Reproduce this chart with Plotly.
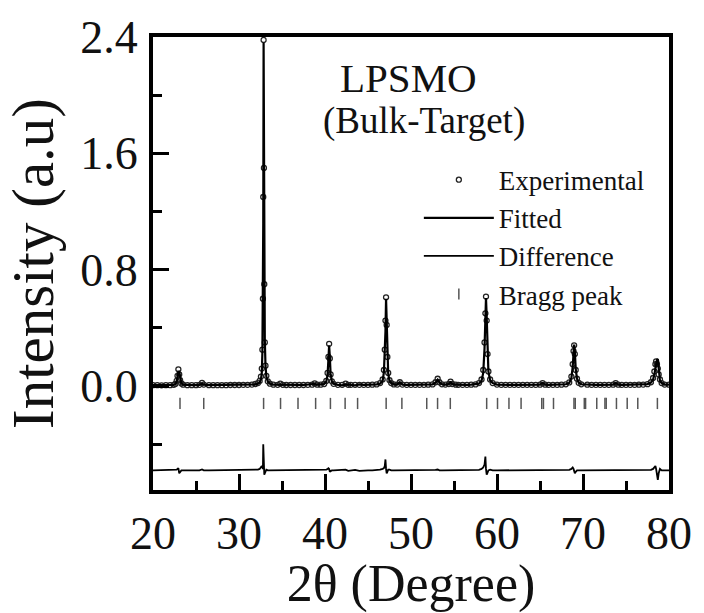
import plotly.graph_objects as go

# ---------------- data ----------------
two_theta = [
    20.0, 20.5, 21.0, 21.5, 22.0, 22.4, 22.6, 22.75,
    22.85, 22.95, 23.05, 23.15, 23.3, 23.5, 24.0, 24.5,
    25.0, 25.4, 25.7, 25.9, 26.5, 27.0, 27.5, 28.0,
    28.5, 29.0, 29.5, 30.0, 30.5, 31.0, 31.5, 31.9,
    32.2, 32.4, 32.55, 32.65, 32.72, 32.78, 32.82, 32.86,
    32.9, 32.94, 33.0, 33.08, 33.18, 33.35, 33.6, 34.0,
    34.5, 34.8, 35.1, 35.5, 36.0, 36.5, 37.0, 37.5,
    38.0, 38.5, 38.8, 39.1, 39.5, 39.9, 40.15, 40.3,
    40.4, 40.48, 40.56, 40.65, 40.8, 41.0, 41.5, 42.0,
    42.4, 42.7, 43.0, 43.5, 44.0, 44.5, 45.0, 45.5,
    46.0, 46.4, 46.7, 46.85, 46.95, 47.03, 47.1, 47.17,
    47.25, 47.35, 47.5, 47.7, 48.0, 48.4, 48.7, 49.0,
    49.5, 50.0, 50.5, 51.0, 51.5, 52.0, 52.5, 52.85,
    53.1, 53.3, 53.6, 54.0, 54.4, 54.6, 54.8, 55.2,
    55.5, 56.0, 56.5, 57.0, 57.5, 57.9, 58.2, 58.4,
    58.55, 58.65, 58.72, 58.8, 58.9, 59.0, 59.2, 59.5,
    60.0, 60.5, 61.0, 61.5, 62.0, 62.5, 63.0, 63.5,
    64.0, 64.5, 65.0, 65.3, 65.6, 66.0, 66.5, 67.0,
    67.5, 68.0, 68.4, 68.65, 68.8, 68.9, 68.97, 69.05,
    69.15, 69.3, 69.5, 69.8, 70.5, 71.0, 71.5, 72.0,
    72.5, 73.0, 73.5, 73.8, 74.1, 74.5, 75.0, 75.5,
    76.0, 76.5, 77.0, 77.5, 77.9, 78.15, 78.3, 78.42,
    78.5, 78.6, 78.7, 78.8, 78.95, 79.15, 79.5, 80.0,
]

y_obs = [
    0.006, 0.006, 0.005, 0.006, 0.006, 0.008, 0.014, 0.035,
    0.070, 0.115, 0.080, 0.040, 0.018, 0.009, 0.006, 0.006,
    0.006, 0.008, 0.022, 0.010, 0.006, 0.006, 0.006, 0.006,
    0.006, 0.007, 0.007, 0.007, 0.008, 0.008, 0.010, 0.014,
    0.020, 0.035, 0.065, 0.120, 0.250, 0.600, 1.300, 2.380,
    1.500, 0.700, 0.300, 0.140, 0.070, 0.032, 0.016, 0.009,
    0.008, 0.016, 0.008, 0.007, 0.007, 0.007, 0.007, 0.007,
    0.008, 0.009, 0.018, 0.009, 0.009, 0.014, 0.035, 0.090,
    0.200, 0.290, 0.190, 0.080, 0.032, 0.015, 0.008, 0.008,
    0.016, 0.008, 0.008, 0.008, 0.008, 0.008, 0.008, 0.009,
    0.011, 0.020, 0.045, 0.110, 0.250, 0.450, 0.610, 0.420,
    0.200, 0.090, 0.040, 0.020, 0.011, 0.010, 0.026, 0.010,
    0.008, 0.008, 0.008, 0.008, 0.008, 0.009, 0.011, 0.026,
    0.050, 0.026, 0.012, 0.010, 0.014, 0.030, 0.014, 0.009,
    0.008, 0.008, 0.008, 0.009, 0.011, 0.020, 0.045, 0.110,
    0.300, 0.500, 0.615, 0.450, 0.220, 0.100, 0.045, 0.020,
    0.010, 0.008, 0.008, 0.008, 0.008, 0.008, 0.008, 0.008,
    0.008, 0.008, 0.009, 0.020, 0.009, 0.008, 0.008, 0.008,
    0.009, 0.012, 0.025, 0.065, 0.150, 0.240, 0.280, 0.220,
    0.110, 0.050, 0.022, 0.012, 0.009, 0.008, 0.008, 0.008,
    0.008, 0.008, 0.009, 0.020, 0.009, 0.008, 0.008, 0.008,
    0.008, 0.009, 0.010, 0.013, 0.026, 0.055, 0.100, 0.150,
    0.170, 0.150, 0.120, 0.080, 0.045, 0.020, 0.010, 0.009,
]

# observed - calculated
y_diff = [
    0.0, 0.0, 0.0, 0.0, 0.0, 0.0, 0.0, 0.005,
    0.010, 0.015, -0.020, -0.010, 0.0, 0.0, 0.0, 0.0,
    0.0, 0.0, 0.006, 0.0, 0.0, 0.0, 0.0, 0.0,
    0.0, 0.0, 0.0, 0.0, 0.0, 0.0, 0.0, 0.003,
    0.005, 0.010, 0.020, 0.030, 0.020, 0.010, 0.180, 0.020,
    0.040, -0.030, -0.020, 0.0, 0.005, 0.0, 0.0, 0.0,
    0.0, 0.005, 0.0, 0.0, 0.0, 0.0, 0.0, 0.0,
    0.0, 0.0, 0.004, 0.0, 0.0, 0.0, 0.005, 0.010,
    0.015, 0.010, -0.010, -0.005, 0.0, 0.0, 0.0, 0.003,
    0.005, -0.003, 0.0, 0.003, -0.003, 0.0, 0.0, 0.0,
    0.0, 0.005, 0.010, 0.015, 0.030, 0.075, 0.010, -0.020,
    -0.010, 0.005, 0.005, 0.0, 0.0, 0.0, 0.0, 0.0,
    0.0, 0.0, 0.0, 0.0, 0.0, 0.0, 0.0, 0.003,
    0.006, 0.0, 0.0, 0.0, 0.0, 0.004, 0.0, 0.0,
    0.0, 0.0, 0.0, 0.0, 0.0, 0.004, 0.010, 0.020,
    0.040, 0.095, 0.010, -0.030, -0.015, 0.0, 0.005, 0.0,
    0.0, 0.0, 0.0, 0.0, 0.0, 0.0, 0.0, 0.0,
    0.0, 0.0, 0.0, 0.0, 0.0, 0.0, 0.0, 0.0,
    0.0, 0.0, 0.004, 0.010, 0.020, 0.010, -0.005, -0.020,
    -0.010, 0.0, 0.0, 0.0, 0.0, 0.0, 0.0, 0.0,
    0.0, 0.0, 0.0, 0.0, 0.0, 0.0, 0.0, 0.0,
    0.0, 0.0, 0.0, 0.0, 0.003, 0.010, 0.020, 0.030,
    0.010, -0.030, -0.065, -0.020, 0.010, 0.0, 0.0, 0.0,
]

bragg_positions = [
    23.14, 25.9, 32.86, 34.83, 36.86, 38.91, 40.63, 42.34, 43.79,
    47.11, 48.94, 51.83, 53.09, 54.57, 58.8, 60.06, 61.39, 62.8,
    65.2, 65.4, 66.57, 68.95, 69.1, 70.15, 70.3, 71.6, 72.55, 72.7,
    73.89, 75.14, 76.37, 78.65,
]

x_tick_values = [20, 30, 40, 50, 60, 70, 80]
y_tick_values = [0.0, 0.8, 1.6, 2.4]
series_names = ["Experimental", "Fitted", "Difference", "Bragg peak"]
sample_label = "LPSMO"
sample_sub_label = "(Bulk-Target)"

# vertical placement of the lower curves (display offsets)
DIFF_OFFSET = -0.58
BRAGG_LEVEL = -0.12

y_calc = [o - d for o, d in zip(y_obs, y_diff)]
diff_shown = [d + DIFF_OFFSET for d in y_diff]
bragg_y = [BRAGG_LEVEL] * len(bragg_positions)

FONT = "Liberation Serif"
TXT = "#111111"

fig = go.Figure()
fig.add_trace(go.Scatter(
    x=two_theta, y=y_obs, mode="markers", name=series_names[0],
    marker=dict(symbol="circle-open", size=5, color="#222222",
                line=dict(width=1.3, color="#222222")),
))
fig.add_trace(go.Scatter(
    x=two_theta, y=y_calc, mode="lines", name=series_names[1],
    line=dict(color="black", width=2.2),
))
fig.add_trace(go.Scatter(
    x=two_theta, y=diff_shown, mode="lines", name=series_names[2],
    line=dict(color="black", width=1.8),
))
fig.add_trace(go.Scatter(
    x=bragg_positions, y=bragg_y, mode="markers", name=series_names[3],
    marker=dict(symbol="line-ns", size=8, color="#555555",
                line=dict(width=1.5, color="#555555")),
))

L, R, T, B = 153, 25, 34, 117
W, H = 704, 613
pw, ph = W - L - R, H - T - B


def px_x(v):
    return (v - L) / pw


def px_y(v):
    return 1 - (v - T) / ph


fig.add_annotation(x=px_x(413), y=px_y(76), xref="x domain", yref="y domain",
                   xanchor="center", yanchor="middle",
                   text=sample_label, showarrow=False,
                   font=dict(family=FONT, size=41, color=TXT))
fig.add_annotation(x=px_x(429), y=px_y(120), xref="x domain", yref="y domain",
                   xanchor="center", yanchor="middle",
                   text=sample_sub_label, showarrow=False,
                   font=dict(family=FONT, size=37, color=TXT))

fig.update_layout(
    width=W, height=H,
    margin=dict(l=L, r=R, t=T, b=B),
    paper_bgcolor="white", plot_bgcolor="white",
    font=dict(family=FONT, color="black"),
    showlegend=True,
    legend=dict(
        x=px_x(424), xanchor="left",
        y=px_y(155), yanchor="top",
        bgcolor="rgba(0,0,0,0)", borderwidth=0,
        font=dict(family=FONT, size=27, color=TXT),
        itemwidth=70, tracegroupgap=0,
    ),
)
fig.update_xaxes(
    range=[20, 80], tickvals=x_tick_values,
    showline=True, linewidth=4, linecolor="black", mirror=True,
    ticks="inside", ticklen=16, tickwidth=3, tickcolor="black",
    minor=dict(dtick=5, tick0=20, ticks="inside", ticklen=9, tickwidth=3, tickcolor="black"),
    showgrid=False, zeroline=False,
    tickfont=dict(family=FONT, size=46, color=TXT),
    title=dict(text="2θ (Degree)", font=dict(family=FONT, size=52, color=TXT), standoff=5),
)
fig.update_yaxes(
    range=[-0.715, 2.4], tickvals=y_tick_values, tickformat=".1f",
    showline=True, linewidth=4, linecolor="black", mirror=True,
    ticks="inside", ticklen=16, tickwidth=3, tickcolor="black",
    minor=dict(dtick=0.4, tick0=0, ticks="inside", ticklen=9, tickwidth=3, tickcolor="black"),
    showgrid=False, zeroline=False,
    ticklabelstandoff=2,
    tickfont=dict(family=FONT, size=46, color=TXT),
    title=dict(text="Intensity (a.u)", font=dict(family=FONT, size=59, color=TXT), standoff=10),
)

fig.write_html("out.html")
